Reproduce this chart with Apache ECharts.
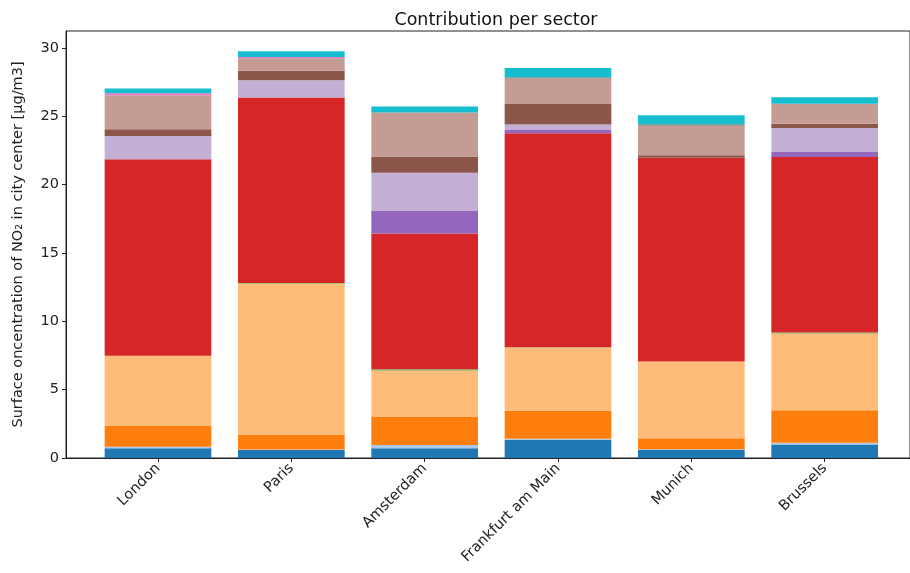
<!DOCTYPE html>
<html>
<head>
<meta charset="utf-8">
<script src="https://cdn.jsdelivr.net/npm/echarts@6/dist/echarts.min.js"></script>
<style>
html,body{margin:0;padding:0;background:#fff;}
#chart{width:910px;height:573px;}
</style>
</head>
<body>
<div id="chart"></div>
<script>
const cities = ['London', 'Paris', 'Amsterdam', 'Frankfurt am Main', 'Munich', 'Brussels'];
const yTicks = [0, 5, 10, 15, 20, 25, 30];

const sectorBlue        = [0.71, 0.59, 0.71, 1.33, 0.58, 0.98];
const sectorLightBlue   = [0.12, 0.03, 0.24, 0.08, 0.06, 0.14];
const sectorOrange      = [1.52, 1.07, 2.08, 2.04, 0.80, 2.38];
const sectorLightOrange = [5.13, 11.06, 3.35, 4.64, 5.62, 5.59];
const sectorGreen       = [0.00, 0.06, 0.12, 0.02, 0.00, 0.10];
const sectorRed         = [14.38, 13.57, 9.93, 15.65, 14.92, 12.84];
const sectorPurple      = [0.00, 0.00, 1.64, 0.25, 0.00, 0.37];
const sectorLightPurple = [1.71, 1.27, 2.81, 0.39, 0.00, 1.75];
const sectorBrown       = [0.49, 0.69, 1.18, 1.51, 0.17, 0.32];
const sectorLightBrown  = [2.49, 0.92, 3.22, 1.86, 2.16, 1.45];
const sectorPink        = [0.15, 0.08, 0.00, 0.00, 0.00, 0.00];
const sectorGray        = [0.00, 0.00, 0.00, 0.10, 0.12, 0.00];
const sectorCyan        = [0.34, 0.42, 0.44, 0.68, 0.66, 0.49];

const seriesDefs = [
  ['Sector 1', sectorBlue, '#1f77b4'],
  ['Sector 2', sectorLightBlue, '#aec7e8'],
  ['Sector 3', sectorOrange, '#ff7f0e'],
  ['Sector 4', sectorLightOrange, '#ffbb78'],
  ['Sector 5', sectorGreen, '#8fb05a'],
  ['Sector 6', sectorRed, '#d62728'],
  ['Sector 7', sectorPurple, '#9467bd'],
  ['Sector 8', sectorLightPurple, '#c5b0d5'],
  ['Sector 9', sectorBrown, '#8c564b'],
  ['Sector 10', sectorLightBrown, '#c49c94'],
  ['Sector 11', sectorPink, '#e377c2'],
  ['Sector 12', sectorGray, '#7f7f7f'],
  ['Sector 13', sectorCyan, '#17becf']
];

const chart = echarts.init(document.getElementById('chart'), null, {renderer: 'canvas'});
const font = 'DejaVu Sans';
const YMAX = 31.25;
const option = {
  animation: false,
  backgroundColor: '#fff',
  title: {
    text: 'Contribution per sector',
    left: 491, top: 6, textAlign: 'center',
    textStyle: {fontFamily: font, fontSize: 17.5, fontWeight: 'normal', color: '#111'}
  },
  grid: [
    {left: 66, top: 31, bottom: 115, right: -6,
     show: true, borderColor: '#222', borderWidth: 1, backgroundColor: 'transparent'},
    {left: 91.33, top: 31, bottom: 115, right: 18.67}
  ],
  xAxis: [
    {
      gridIndex: 0, type: 'value', min: 0, max: 1,
      splitLine: {show: false},
      axisLine: {show: true, onZero: false, lineStyle: {color: '#222', width: 1}},
      axisTick: {show: false},
      axisLabel: {show: false}
    },
    {
      gridIndex: 1, type: 'category', data: cities,
      axisLine: {show: false},
      axisTick: {show: true, alignWithLabel: true, length: 4, lineStyle: {color: '#222'}},
      axisLabel: {
        interval: 0, rotate: 45, margin: 8,
        fontFamily: font, fontSize: 14.5, color: '#222'
      }
    }
  ],
  yAxis: [
    {
      gridIndex: 0, type: 'value',
      min: 0, max: YMAX, interval: 5,
      name: 'Surface oncentration of NO\u2082 in city center [\u00b5g/m3]',
      nameLocation: 'middle',
      nameGap: 40,
      nameTextStyle: {fontFamily: font, fontSize: 14.5, color: '#222'},
      splitLine: {show: false},
      axisLine: {show: true, onZero: false, lineStyle: {color: '#222', width: 1}},
      axisTick: {show: true, length: 4, lineStyle: {color: '#222'}},
      axisLabel: {
        fontFamily: font, fontSize: 14.5, color: '#222', margin: 7,
        showMaxLabel: false,
        formatter: v => (yTicks.indexOf(v) >= 0 ? String(v) : '')
      }
    },
    {
      gridIndex: 1, type: 'value', min: 0, max: YMAX,
      show: false, splitLine: {show: false}
    }
  ],
  series: seriesDefs.map(([name, vals, color]) => ({
    name: name,
    type: 'bar',
    stack: 'total',
    xAxisIndex: 1,
    yAxisIndex: 1,
    barWidth: '80%',
    itemStyle: {color: color},
    data: vals
  }))
};
chart.setOption(option);
</script>
</body>
</html>
